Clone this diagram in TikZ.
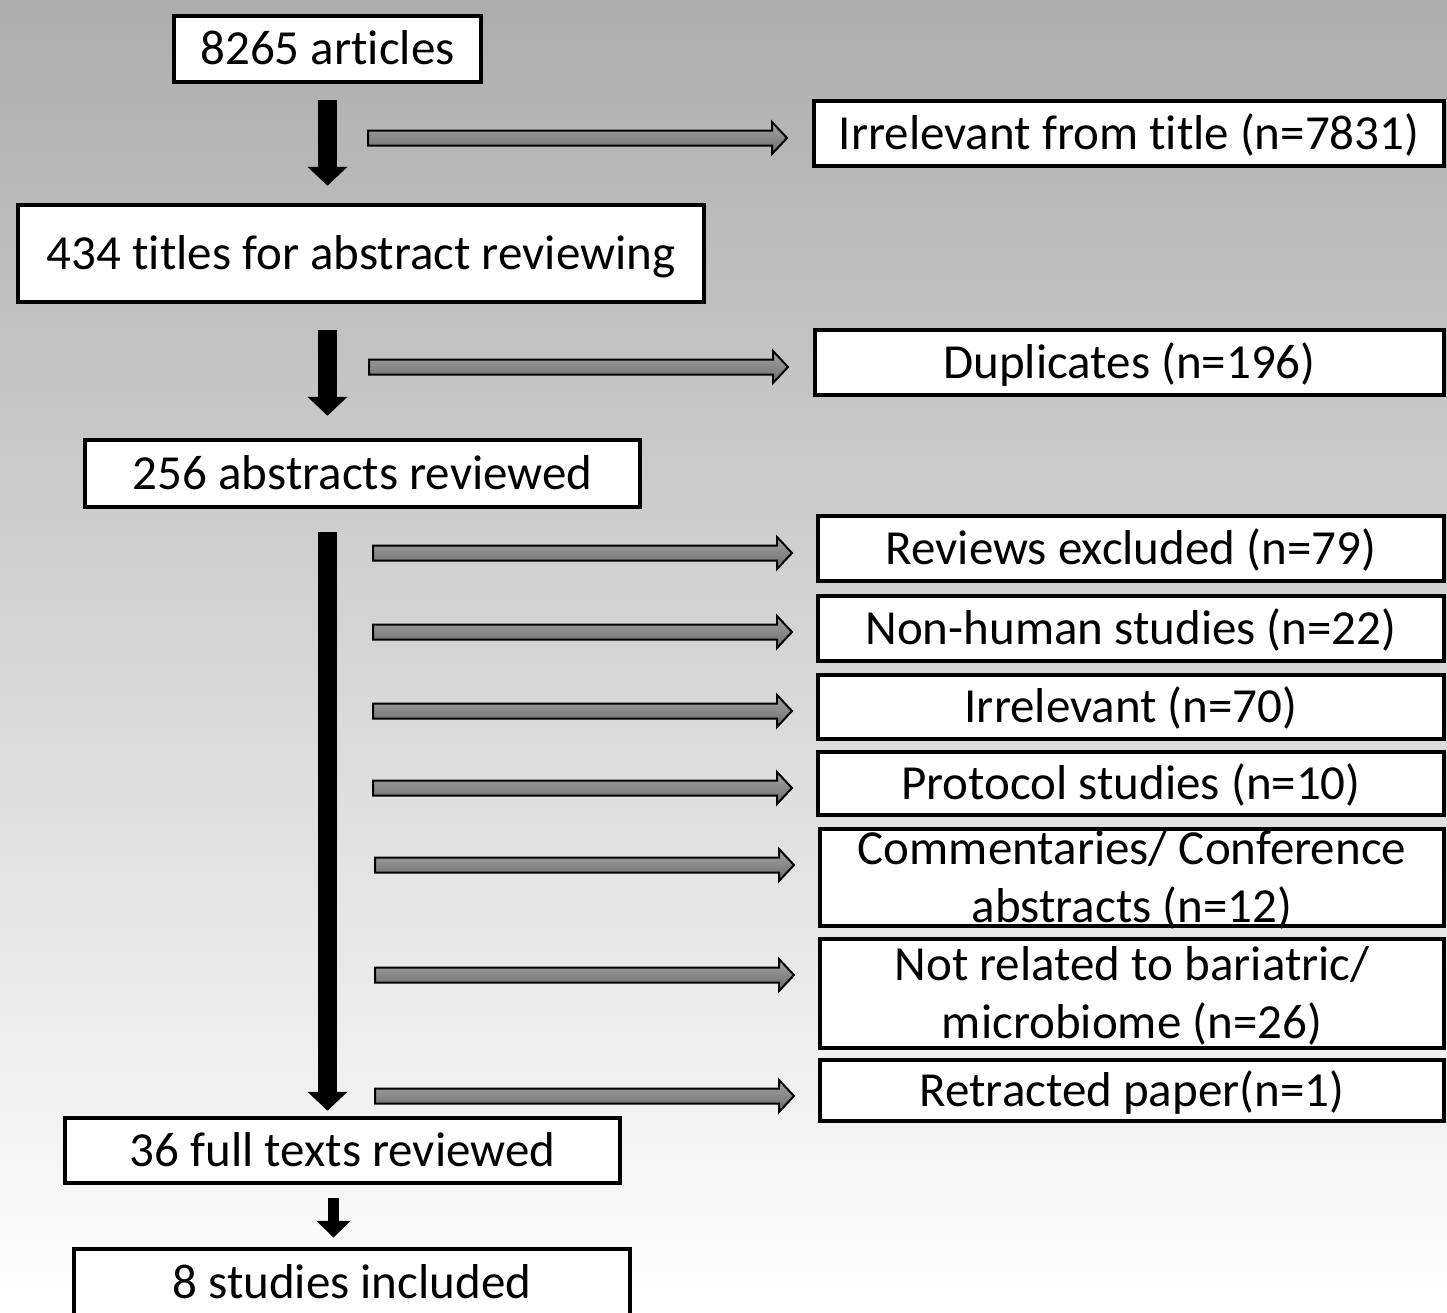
\documentclass[tikz,border=0pt]{standalone}
\usepackage{fontspec}
\setmainfont{Carlito}[Ligatures=NoCommon]
\usetikzlibrary{arrows.meta,calc}
\definecolor{bgtop}{HTML}{ADADAD}
\definecolor{bgmid}{HTML}{D5D5D5}
\definecolor{bgbot}{HTML}{FFFFFF}
\definecolor{arrtop}{HTML}{A4A4A4}
\definecolor{arrbot}{HTML}{6C6C6C}
\newcommand\grayarr[2]{%
  \shadedraw[grayarrow]
    ($(#1)+(0,-7.5)$) -- ($(#2)+(-15,-7.5)$) -- ($(#2)+(-15,-16)$) -- (#2)
    -- ($(#2)+(-15,16)$) -- ($(#2)+(-15,7.5)$) -- ($(#1)+(0,7.5)$) -- cycle;}
\begin{document}
\begin{tikzpicture}[x=0.5pt,y=-0.5pt,
  box/.style={draw=black, line width=2.25pt, fill=white, inner sep=0pt,
    font=\fontsize{24.5}{29}\selectfont, text height=15.8pt, text depth=0pt},
  twoline/.style={box, align=center, text height=44.8pt, text depth=0pt},
  blk/.style={line width=9.5pt, -{Triangle[width=19.5pt,length=9.5pt]}},
  blksmall/.style={line width=5.5pt, -{Triangle[width=16.5pt,length=8.5pt]}},
  grayarrow/.style={draw=black, line width=1pt, top color=arrtop, bottom color=arrbot, line join=miter}
]
\useasboundingbox (0,0) rectangle (1447,1313);
\clip (0,0) rectangle (1447,1313);
\shade[top color=bgtop, middle color=bgmid, bottom color=bgbot] (0,0) rectangle (1447,1313);

% main column
\node[box, minimum width=153.5pt, minimum height=33pt] (b1) at (327.5,49) {8265 articles};
\node[box, minimum width=343pt, minimum height=48.5pt] (b2) at (361,253.5) {434 titles for abstract reviewing};
\node[box, minimum width=277.5pt, minimum height=33.5pt] (b3) at (362.5,473.5) {256 abstracts reviewed};
\node[box, minimum width=277.5pt, minimum height=32.5pt] (b4) at (342.5,1150.5) {36 full texts reviewed};
\node[box, minimum width=278pt, minimum height=33.5pt] (b5) at (352,1282.5) {8 studies included};

% exclusion boxes
\node[box, minimum width=315pt, minimum height=32.5pt] (r1) at (1129,133.5) {Irrelevant from title (n=7831)};
\node[box, minimum width=314.5pt, minimum height=32.5pt] (r2) at (1129.5,362.5) {Duplicates (n=196)};
\node[box, minimum width=313pt, minimum height=32.5pt] (r3) at (1131,548.5) {Reviews excluded (n=79)};
\node[box, minimum width=313pt, minimum height=32.5pt] (r4) at (1131,628.5) {Non-human studies (n=22)};
\node[box, minimum width=313pt, minimum height=32pt] (r5) at (1131,707) {Irrelevant (n=70)};
\node[box, minimum width=313pt, minimum height=31.5pt] (r6) at (1131,783.5) {Protocol studies (n=10)};
\node[twoline, minimum width=312pt, minimum height=48.5pt] (r7) at (1132,877.5) {Commentaries/ Conference\\abstracts (n=12)};
\node[twoline, minimum width=312pt, minimum height=54.5pt] (r8) at (1132,993.5) {Not related to bariatric/\\microbiome (n=26)};
\node[box, minimum width=312pt, minimum height=30.5pt] (r9) at (1132,1090.5) {Retracted paper(n=1)};

% black flow arrows
\draw[blk] ($(b1.south)+(0,16)$) -- ($(b2.north)+(-33.5,-17)$);
\draw[blk] ($(b2.south)+(-33.5,26)$) -- ($(b3.north)+(-35,-22)$);
\draw[blk] ($(b3.south)+(-35,23)$) -- ($(b4.north)+(-15,-5)$);
\draw[blksmall] ($(b4.south)+(-9,13)$) -- ($(b5.north)+(-18.5,-9)$);

% gray exclusion arrows
\coordinate (g1a) at (368,138);  \coordinate (g1b) at (787,138);
\coordinate (g2a) at (369,367);  \coordinate (g2b) at (788,367);
\coordinate (g3a) at (373,553);  \coordinate (g3b) at (792,553);
\coordinate (g4a) at (373,632);  \coordinate (g4b) at (792,632);
\coordinate (g5a) at (373,711);  \coordinate (g5b) at (792,711);
\coordinate (g6a) at (373,788);  \coordinate (g6b) at (792,788);
\coordinate (g7a) at (375,865);  \coordinate (g7b) at (794,865);
\coordinate (g8a) at (375,975);  \coordinate (g8b) at (794,975);
\coordinate (g9a) at (375,1096); \coordinate (g9b) at (794,1096);
\grayarr{g1a}{g1b}
\grayarr{g2a}{g2b}
\grayarr{g3a}{g3b}
\grayarr{g4a}{g4b}
\grayarr{g5a}{g5b}
\grayarr{g6a}{g6b}
\grayarr{g7a}{g7b}
\grayarr{g8a}{g8b}
\grayarr{g9a}{g9b}
\end{tikzpicture}
\end{document}
